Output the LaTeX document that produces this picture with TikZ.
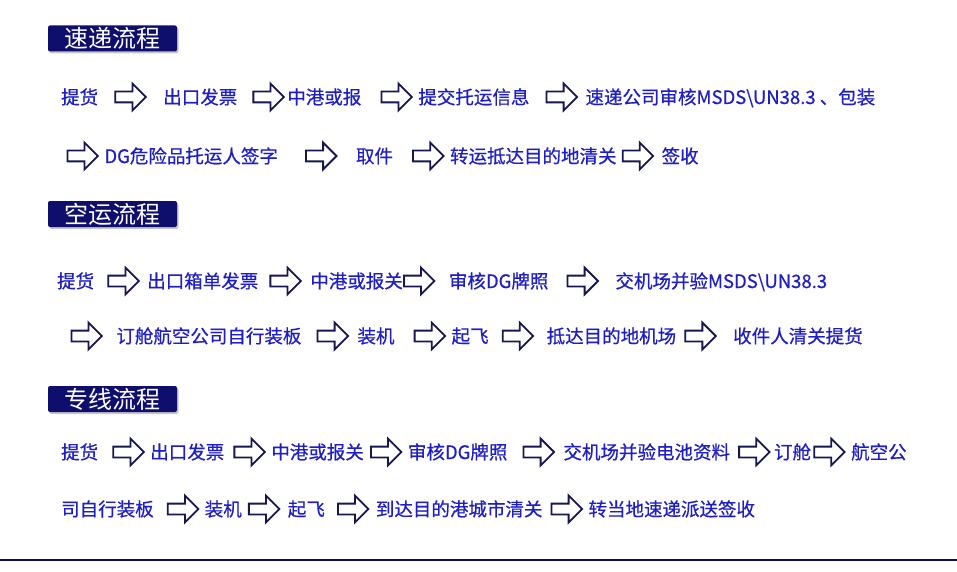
\documentclass[tikz,border=0pt]{standalone}
\usepackage{fontspec}
\setmainfont{Noto Sans CJK SC}
\newfontfamily\stepfont{Noto Sans CJK SC}[FakeBold=0.6]
\usepackage{tikz}
\usetikzlibrary{positioning,shapes.arrows,shadows}
\definecolor{navy}{RGB}{14,14,108}
\definecolor{flowblue}{RGB}{30,30,196}
\definecolor{arrowline}{RGB}{22,22,80}
\begin{document}
\begin{tikzpicture}[x=1pt,y=-1pt,node distance=5pt,
                    title node/.style={rectangle,rounded corners=2pt,fill=navy,text=white,minimum width=129pt,minimum height=26pt,inner sep=0pt,font=\fontsize{24}{24}\selectfont,drop shadow={shadow xshift=1.5pt,shadow yshift=-2pt,opacity=0.45}},
                    step node/.style={inner sep=0pt,text=flowblue,text height=16pt,text depth=2pt,font=\stepfont\fontsize{18.5}{18.5}\selectfont},
                    flow arrow/.style={single arrow,draw=arrowline,fill=white,line width=1.8pt,inner xsep=0pt,inner ysep=4.5pt,text height=0pt,text depth=0pt,single arrow head extend=8pt,minimum height=30.5pt}]
\useasboundingbox (0,0) rectangle (957,572);

\node[title node] (t1) at (112.5,38.5) {速递流程};
\node[step node,anchor=west] (a1) at (61,97) {提货};
\node[flow arrow] (a2) [right=16pt of a1] {};
\node[step node] (a3) [right=16pt of a2] {出口发票};
\node[flow arrow] (a4) [right=15pt of a3] {};
\node[step node] (a5) [right=2pt of a4] {中港或报};
\node[flow arrow] (a6) [right=19pt of a5] {};
\node[step node] (a7) [right=5pt of a6] {提交托运信息};
\node[flow arrow] (a8) [right=16pt of a7] {};
\node[step node] (a9) [right=7pt of a8] {速递公司审核MSDS\textbackslash UN38.3 、包装};

\node[flow arrow] (b1) at (80,156) {};
\node[step node] (b2) [right=5pt of b1] {DG危险品托运人签字};
\node[flow arrow] (b3) [right=27pt of b2] {};
\node[step node] (b4) [right=18pt of b3] {取件};
\node[flow arrow] (b5) [right=19pt of b4] {};
\node[step node] (b6) [right=5pt of b5] {转运抵达目的地清关};
\node[flow arrow] (b7) [right=5pt of b6] {};
\node[step node] (b8) [right=7pt of b7] {签收};

\node[title node] (t2) at (112.5,214) {空运流程};
\node[step node,anchor=west] (c1) at (57,281) {提货};
\node[flow arrow] (c2) [right=13pt of c1] {};
\node[step node] (c3) [right=7pt of c2] {出口箱单发票};
\node[flow arrow] (c4) [right=11pt of c3] {};
\node[step node] (c5) [right=8pt of c4] {中港或报关};
\node[flow arrow] (c6) [right=0pt of c5] {};
\node[step node] (c7) [right=13pt of c6] {审核DG牌照};
\node[flow arrow] (c8) [right=18pt of c7] {};
\node[step node] (c9) [right=16pt of c8] {交机场并验MSDS\textbackslash UN38.3};

\node[flow arrow] (d1) at (84,336) {};
\node[step node] (d2) [right=13pt of d1] {订舱航空公司自行装板};
\node[flow arrow] (d3) [right=15pt of d2] {};
\node[step node] (d4) [right=8pt of d3] {装机};
\node[flow arrow] (d5) [right=19pt of d4] {};
\node[step node] (d6) [right=5pt of d5] {起飞};
\node[flow arrow] (d7) [right=13pt of d6] {};
\node[step node] (d8) [right=12pt of d7] {抵达目的地机场};
\node[flow arrow] (d9) [right=8pt of d8] {};
\node[step node] (d10) [right=16pt of d9] {收件人清关提货};

\node[title node] (t3) at (112.5,399) {专线流程};
\node[step node,anchor=west] (e1) at (61,452) {提货};
\node[flow arrow] (e2) [right=14pt of e1] {};
\node[step node] (e3) [right=5pt of e2] {出口发票};
\node[flow arrow] (e4) [right=9pt of e3] {};
\node[step node] (e5) [right=5pt of e4] {中港或报关};
\node[flow arrow] (e6) [right=6pt of e5] {};
\node[step node] (e7) [right=5pt of e6] {审核DG牌照};
\node[flow arrow] (e8) [right=15pt of e7] {};
\node[step node] (e9) [right=8pt of e8] {交机场并验电池资料};
\node[flow arrow] (e10) [right=8pt of e9] {};
\node[step node] (e11) [right=3pt of e10] {订舱};
\node[flow arrow] (e12) [right=2pt of e11] {};
\node[step node] (e13) [right=5pt of e12] {航空公};

\node[step node,anchor=west] (f1) at (61,509) {司自行装板};
\node[flow arrow] (f2) [right=13pt of f1] {};
\node[step node] (f3) [right=5pt of f2] {装机};
\node[flow arrow] (f4) [right=6pt of f3] {};
\node[step node] (f5) [right=7pt of f4] {起飞};
\node[flow arrow] (f6) [right=12pt of f5] {};
\node[step node] (f7) [right=6pt of f6] {到达目的港城市清关};
\node[flow arrow] (f8) [right=8pt of f7] {};
\node[step node] (f9) [right=5pt of f8] {转当地速递派送签收};

\draw[navy!85!black,line width=2pt] (0,560) -- (957,560);
\end{tikzpicture}
\end{document}
